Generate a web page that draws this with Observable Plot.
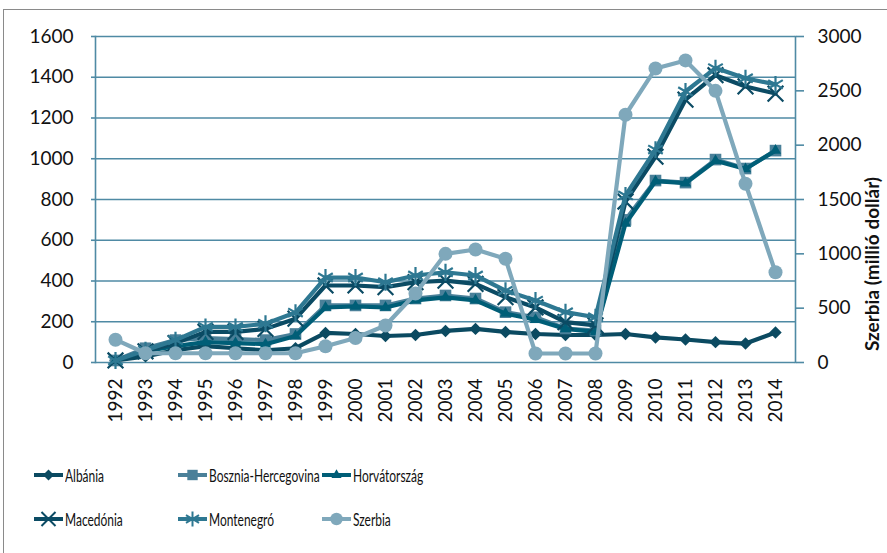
<!DOCTYPE html>
<html>
<head>
<meta charset="utf-8">
<script src="https://cdn.jsdelivr.net/npm/d3@7"></script>
<script src="https://cdn.jsdelivr.net/npm/@observablehq/plot@0.6"></script>
<style>
  html, body { margin: 0; padding: 0; background: #fff; }
  #wrap { position: relative; width: 887px; height: 553px; overflow: hidden; font-family: Lato, "Open Sans", sans-serif; }
  #border { position: absolute; left: 3px; top: 9px; width: 900px; height: 600px; border-top: 1.5px solid #8a8a8a; border-left: 1.5px solid #8a8a8a; }
  #chart { position: absolute; left: 0; top: 0; }
  .leg { position: absolute; display: flex; align-items: center; font-size: 18px; color: #111; white-space: nowrap; }
  .leg svg { margin-right: 2px; flex: none; }
  .leg span { display: inline-block; transform: scaleX(0.665); transform-origin: 0 50%; }
</style>
</head>
<body>
<div id="wrap">
  <div id="border"></div>
  <div id="chart"></div>
  <div id="legend"></div>
</div>
<script>
const years = [1992,1993,1994,1995,1996,1997,1998,1999,2000,2001,2002,2003,2004,2005,2006,2007,2008,2009,2010,2011,2012,2013,2014];
const names = ["Albánia","Bosznia-Hercegovina","Horvátország","Macedónia","Montenegró","Szerbia"];
const albania    = [10, 30, 60, 80, 70, 60, 70, 145, 140, 130, 135, 155, 165, 150, 140, 135, 135, 140, 123, 113, 100, 93, 147];
const bosznia    = [10, 70, 110, 120, 115, 110, 140, 280, 280, 280, 314, 329, 314, 247, 222, 167, 157, 700, 893, 883, 996, 952, 1040];
const horvat     = [10, 55, 80, 100, 95, 90, 130, 270, 275, 270, 305, 320, 305, 240, 210, 165, 150, 682, 890, 880, 990, 950, 1040];
const macedonia  = [10, 55, 95, 150, 150, 165, 215, 378, 378, 370, 394, 402, 386, 321, 270, 198, 182, 790, 1010, 1290, 1410, 1355, 1320];
const montenegro = [10, 60, 110, 175, 175, 190, 245, 417, 417, 394, 427, 443, 427, 353, 304, 247, 222, 820, 1045, 1330, 1445, 1395, 1365];
const szerbia    = [210, 85, 85, 85, 85, 85, 85, 150, 225, 340, 635, 1000, 1040, 955, 83, 83, 83, 2280, 2705, 2780, 2500, 1645, 830];
const leftTicks  = [0,200,400,600,800,1000,1200,1400,1600];
const rightTicks = [0,500,1000,1500,2000,2500,3000];
const rightTitle = "Szerbia (millió dollár)";

const k = 1600 / 3000;
const gridColor = "#4f8aa4";
const series = [
  {name: names[0], values: albania,    color: "#0b4a61", symbol: "diamond2", r: 5.6, stroke: false, scaled: false},
  {name: names[1], values: bosznia,    color: "#4a8099", symbol: "square2",  r: 7.4, stroke: false, scaled: false},
  {name: names[2], values: horvat,     color: "#005e77", symbol: "triangle2",r: 5.4, stroke: false, scaled: false},
  {name: names[3], values: macedonia,  color: "#0b4b64", symbol: "times",    r: 7.2, stroke: true,  scaled: false},
  {name: names[4], values: montenegro, color: "#2e7892", symbol: "asterisk", r: 8,   stroke: true,  scaled: false},
  {name: names[5], values: szerbia,    color: "#7fa8bb", symbol: "circle",   r: 7,   stroke: false, scaled: true}
];

const marks = [
  Plot.gridY(leftTicks, {stroke: gridColor, strokeOpacity: 1, strokeWidth: 1.6}),
  Plot.axisY(leftTicks, {anchor: "left", tickSize: 4, tickPadding: 18, label: null, fontSize: 19, stroke: gridColor, strokeWidth: 1.6, tickFormat: d => String(d), color: "#111"}),
  Plot.axisY(rightTicks.map(v => v * k), {anchor: "right", tickSize: 8, tickPadding: 14, label: null, fontSize: 19, stroke: gridColor, strokeWidth: 1.6, tickFormat: d => String(Math.round(d / k)), color: "#111"}),
  Plot.axisX(years, {anchor: "bottom", tickSize: 0, tickPadding: 16, tickRotate: -90, label: null, fontSize: 19, tickFormat: d => String(d), color: "#111"}),
  Plot.frame({anchor: "left", stroke: gridColor, strokeWidth: 1.6}),
  Plot.frame({anchor: "right", stroke: gridColor, strokeWidth: 1.6})
];

for (const s of series) {
  const rows = s.values.map((v, i) => ({year: years[i], value: s.scaled ? v * k : v}));
  marks.push(Plot.line(rows, {x: "year", y: "value", stroke: s.color, strokeWidth: 4.2, strokeLinejoin: "round"}));
  if (s.stroke) {
    marks.push(Plot.dot(rows, {x: "year", y: "value", symbol: s.symbol, r: s.r, stroke: s.color, strokeWidth: 2.2, fill: "none"}));
  } else {
    marks.push(Plot.dot(rows, {x: "year", y: "value", symbol: s.symbol, r: s.r, fill: s.color, stroke: "none"}));
  }
}

const chart = Plot.plot({
  width: 887,
  height: 440,
  marginLeft: 95,
  marginRight: 92,
  marginTop: 36,
  marginBottom: 78,
  style: {fontFamily: "Lato, 'Open Sans', sans-serif", background: "transparent", color: "#111"},
  x: {type: "point", domain: years, padding: 0.5},
  y: {domain: [0, 1600]},
  marks
});
document.getElementById("chart").appendChild(chart);

// right axis title
d3.select(chart).append("text")
  .attr("transform", "translate(872,264) rotate(-90)")
  .attr("text-anchor", "middle")
  .attr("font-size", 19)
  .attr("font-weight", "bold")
  .attr("fill", "#111")
  .attr("dy", "0.35em")
  .text(rightTitle);

// legend
const legPos = [
  [34, 475], [178, 475], [322, 475],
  [34, 519], [178, 519], [322, 519]
];
const legend = document.getElementById("legend");
const symMap = {diamond2: d3.symbolDiamond2, square2: d3.symbolSquare2, triangle2: d3.symbolTriangle2, times: d3.symbolTimes, asterisk: d3.symbolAsterisk, circle: d3.symbolCircle};
series.forEach((s, i) => {
  const [lx, ly] = legPos[i];
  const div = document.createElement("div");
  div.className = "leg";
  div.style.left = lx + "px";
  div.style.top = (ly - 12) + "px";
  div.style.height = "24px";
  const svg = d3.create("svg").attr("width", 29).attr("height", 24);
  svg.append("line").attr("x1", 0).attr("x2", 29).attr("y1", 12).attr("y2", 12).attr("stroke", s.color).attr("stroke-width", 4);
  const path = d3.symbol(symMap[s.symbol], s.r * s.r * Math.PI * 0.8)();
  const p = svg.append("path").attr("d", path).attr("transform", "translate(14.5,12)");
  if (s.stroke) p.attr("fill", "none").attr("stroke", s.color).attr("stroke-width", 2);
  else p.attr("fill", s.color);
  div.appendChild(svg.node());
  const span = document.createElement("span");
  span.textContent = s.name;
  div.appendChild(span);
  legend.appendChild(div);
});
</script>
</body>
</html>
